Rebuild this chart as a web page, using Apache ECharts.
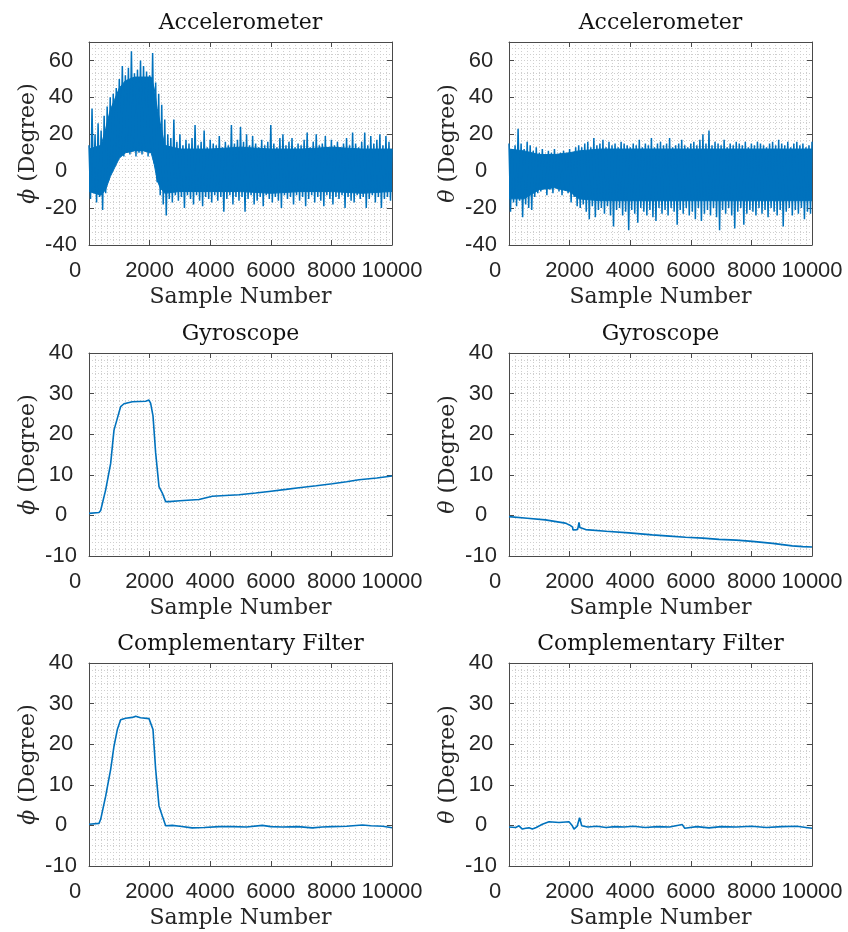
<!DOCTYPE html>
<html>
<head>
<meta charset="utf-8">
<script src="https://cdn.jsdelivr.net/npm/echarts@6/dist/echarts.min.js"></script>
<style>
html,body{margin:0;padding:0;background:#fff;}
#chart{width:848px;height:932px;}
</style>
</head>
<body>
<div id="chart"></div>
<script>
// ---------- data ----------
const xTicks = [0, 2000, 4000, 6000, 8000, 10000];
const titles = ['Accelerometer', 'Accelerometer', 'Gyroscope', 'Gyroscope', 'Complementary Filter', 'Complementary Filter'];

// Accelerometer: peak envelope of the noisy signal (upper at 0,100,...,10000; lower at 50,150,...,9950)
const accPhiUpper = [14, 34, 20, 26, 22, 30, 35, 40, 42, 45,
  50, 57, 52, 56, 65, 53, 55, 60, 57, 54,
  52, 64, 48, 42, 36, 28, 20, 18, 28, 16,
  20, 14, 17, 15, 18, 25, 14, 16, 22, 13,
  17, 15, 14, 19, 13, 16, 14, 25, 15, 17,
  24, 16, 20, 14, 19, 15, 13, 17, 14, 16,
  25, 15, 13, 18, 20, 14, 16, 18, 13, 15,
  14, 17, 21, 13, 16, 20, 14, 15, 19, 13,
  17, 14, 16, 13, 15, 18, 14, 21, 15, 13,
  16, 21, 14, 19, 15, 17, 20, 14, 19, 16, 12];
const accPhiLower = [-15, -12, -17, -14, -21, -12, -5, 0, 4, 7,
  9, 8, 10, 9, 11, 8, 10, 9, 11, 8,
  10, 4, -6, -13, -18, -24, -15, -17, -13, -16,
  -14, -20, -13, -15, -18, -13, -16, -19, -14, -15,
  -17, -13, -16, -14, -22, -15, -13, -18, -14, -16,
  -14, -22, -15, -13, -18, -16, -14, -19, -13, -15,
  -17, -14, -16, -20, -13, -15, -14, -18, -13, -16,
  -14, -19, -15, -13, -17, -14, -16, -19, -13, -15,
  -18, -14, -15, -13, -20, -14, -16, -17, -13, -15,
  -14, -20, -15, -13, -17, -14, -20, -15, -14, -16];
// dense core of the accelerometer noise band
const accPhiCoreX = [0, 400, 550, 700, 850, 1000, 1200, 1500, 1800, 2050, 2150, 2250, 2350, 2500, 3000, 4000, 5000, 6000, 7000, 8000, 9000, 10000];
const accPhiCoreUpper = [12, 14, 23, 33, 39, 45, 49, 51, 51, 51, 45, 34, 26, 14, 12, 12, 13, 12, 12, 13, 12, 12];
const accPhiCoreLower = [-11, -13, -10, -3, 2, 7, 10, 11, 11, 10, 4, -5, -9, -12, -11, -11, -11, -12, -11, -11, -12, -11];

const accThetaUpper = [15, 12, 14, 23, 15, 12, 16, 14, 11, 13,
  10, 12, 9, 11, 10, 12, 9, 10, 11, 9,
  12, 10, 13, 14, 13, 15, 16, 13, 18, 14,
  15, 17, 13, 16, 14, 15, 13, 16, 15, 14,
  13, 15, 14, 17, 13, 15, 14, 18, 13, 15,
  16, 14, 15, 18, 13, 14, 15, 17, 14, 13,
  15, 16, 14, 17, 20, 15, 22, 14, 16, 15,
  14, 17, 13, 15, 14, 16, 15, 14, 16, 13,
  15, 14, 16, 15, 14, 13, 15, 16, 14, 17,
  15, 14, 16, 13, 15, 16, 14, 15, 13, 14, 16];
const accThetaLower = [-22, -17, -19, -16, -25, -18, -20, -21, -14, -12,
  -11, -9, -13, -10, -12, -9, -11, -13, -10, -12,
  -17, -14, -19, -20, -18, -22, -26, -19, -25, -21,
  -20, -23, -19, -24, -30, -21, -20, -24, -22, -32,
  -21, -23, -28, -20, -22, -24, -21, -25, -27, -20,
  -23, -21, -24, -20, -22, -29, -21, -23, -20, -24,
  -22, -26, -20, -27, -23, -21, -24, -20, -25, -32,
  -21, -23, -20, -24, -31, -22, -20, -29, -23, -21,
  -22, -24, -20, -23, -21, -25, -20, -22, -24, -21,
  -30, -22, -20, -24, -21, -23, -20, -26, -22, -23];
const accThetaCoreX = [0, 500, 1000, 1500, 2000, 2300, 3000, 4000, 5000, 6000, 7000, 8000, 9000, 10000];
const accThetaCoreUpper = [12, 11, 9, 9, 10, 11, 12, 12, 12, 12, 12, 12, 12, 12];
const accThetaCoreLower = [-15, -15, -10, -9, -11, -15, -16, -16, -16, -16, -16, -16, -16, -16];

// Gyroscope
const gyroPhiX = [0, 330, 385, 550, 715, 825, 935, 1045, 1155, 1430, 1870, 1980, 2035, 2112, 2200, 2310, 2420, 2530, 2640, 3000, 3630, 4070, 4500, 4950, 5500, 5940, 6500, 6930, 7500, 8030, 8500, 8910, 9500, 10000];
const gyroPhiY = [0.5, 0.7, 1.2, 6.3, 12.8, 21, 23.9, 26.8, 27.5, 28.0, 28.1, 28.4, 27.6, 24.5, 15.4, 7.1, 5.5, 3.4, 3.4, 3.6, 3.9, 4.7, 4.9, 5.1, 5.5, 5.9, 6.4, 6.8, 7.3, 7.8, 8.3, 8.8, 9.2, 9.7];
const gyroThetaX = [0, 600, 1200, 1860, 2030, 2100, 2110, 2250, 2280, 2310, 2340, 2360, 2530, 3200, 3960, 4730, 5300, 5830, 6400, 6930, 7500, 8030, 8700, 9350, 9700, 10000];
const gyroThetaY = [-0.3, -0.7, -1.1, -1.9, -2.5, -2.9, -3.6, -3.5, -3.0, -1.7, -3.0, -3.4, -3.5, -3.9, -4.3, -4.8, -5.1, -5.4, -5.6, -5.9, -6.1, -6.4, -6.9, -7.5, -7.7, -7.8];

// Complementary filter
const compPhiX = [0, 330, 385, 550, 715, 825, 935, 1045, 1210, 1430, 1540, 1700, 1980, 2035, 2112, 2200, 2310, 2420, 2530, 2750, 3000, 3400, 3800, 4300, 4730, 5200, 5720, 6000, 6380, 6900, 7370, 7700, 8030, 8500, 9020, 9300, 9700, 10000];
const compPhiY = [0.3, 0.5, 1.5, 7.2, 13.8, 19.5, 23.6, 26.0, 26.4, 26.6, 26.9, 26.5, 26.3, 26.1, 23.6, 13.8, 4.8, 2.3, -0.1, 0.0, -0.2, -0.6, -0.5, -0.3, -0.3, -0.4, 0.0, -0.3, -0.4, -0.3, -0.6, -0.4, -0.3, -0.2, 0.1, -0.1, -0.2, -0.6];
const compThetaX = [0, 220, 330, 440, 550, 660, 770, 900, 1100, 1320, 1650, 1980, 2090, 2145, 2250, 2330, 2400, 2600, 2900, 3200, 3500, 3800, 4100, 4500, 4900, 5300, 5720, 5800, 6200, 6600, 7000, 7500, 8000, 8500, 9000, 9500, 9800, 10000];
const compThetaY = [-0.4, -0.5, -0.1, -0.9, -0.7, -0.6, -0.9, -0.5, 0.3, 0.9, 0.7, 0.9, -0.1, -0.9, -0.2, 1.9, -0.1, -0.4, -0.2, -0.5, -0.3, -0.4, -0.2, -0.5, -0.3, -0.4, 0.2, -0.7, -0.3, -0.6, -0.3, -0.4, -0.2, -0.5, -0.3, -0.2, -0.5, -0.7];

// ---------- helpers ----------
function envelopeSeries(upper, lower) {
  const pts = [];
  for (let i = 0; i < upper.length; i++) {
    pts.push([i * 100, upper[i]]);
    if (i < lower.length) pts.push([i * 100 + 50, lower[i]]);
  }
  return pts;
}
function zipXY(xs, ys) { return xs.map((x, i) => [x, ys[i]]); }

const SANS = '"Liberation Sans", Arial, Helvetica, sans-serif';
const SERIF = '"DejaVu Serif", serif';
const TXT = '#262626';
const AX = '#4a4a4a';
const GRIDC = '#cfcfcf';
const BLUE = '#0072BD';

const lefts = [89, 509];
const tops = [42, 353, 663];
const W = 303, H = 203;
const yRanges = [[-40, 70, 20], [-10, 40, 10], [-10, 40, 10]];
const symbols = ['\u03D5', '\u03B8'];

const panelData = [
  envelopeSeries(accPhiUpper, accPhiLower),
  envelopeSeries(accThetaUpper, accThetaLower),
  zipXY(gyroPhiX, gyroPhiY),
  zipXY(gyroThetaX, gyroThetaY),
  zipXY(compPhiX, compPhiY),
  zipXY(compThetaX, compThetaY)
];
const cores = [
  [accPhiCoreX, accPhiCoreLower, accPhiCoreUpper],
  [accThetaCoreX, accThetaCoreLower, accThetaCoreUpper]
];

function bandRenderer(core) {
  return function (params, api) {
    const xs = core[0], lo = core[1], hi = core[2];
    const pts = [];
    for (let i = 0; i < xs.length; i++) pts.push(api.coord([xs[i], hi[i]]));
    for (let i = xs.length - 1; i >= 0; i--) pts.push(api.coord([xs[i], lo[i]]));
    return { type: 'polygon', shape: { points: pts }, style: { fill: BLUE, stroke: BLUE, lineWidth: 1 } };
  };
}

const grid = [], xAxis = [], yAxis = [], series = [], graphic = [];
const dotted = { color: GRIDC, type: [1, 2], width: 1 };

for (let p = 0; p < 6; p++) {
  const r = Math.floor(p / 2), c = p % 2;
  grid.push({ left: lefts[c], top: tops[r], width: W, height: H, containLabel: false });
  const yr = yRanges[r];
  xAxis.push({
    gridIndex: p, type: 'value', min: xTicks[0], max: xTicks[xTicks.length - 1], interval: 2000,
    axisLine: { show: true, onZero: false, lineStyle: { color: AX, width: 1 } },
    axisTick: { show: true, inside: true, length: 5, lineStyle: { color: AX } },
    axisLabel: {
      show: true, margin: 15, color: TXT, fontFamily: SANS, fontSize: 22,
      formatter: v => v === 0 ? '{z|0}' : String(v),
      rich: { z: { padding: [0, 28, 0, 0], color: TXT, fontFamily: SANS, fontSize: 22 } }
    },
    splitLine: { show: true, lineStyle: dotted },
    minorTick: { show: false, splitNumber: 10 },
    minorSplitLine: { show: true, lineStyle: dotted },
    name: 'Sample Number', nameLocation: 'middle', nameGap: 41,
    nameTextStyle: { fontFamily: SERIF, fontSize: 22, color: TXT }
  });
  yAxis.push({
    gridIndex: p, type: 'value', min: yr[0], max: yr[1], interval: yr[2],
    axisLine: { show: true, onZero: false, lineStyle: { color: AX, width: 1 } },
    axisTick: { show: true, inside: true, length: 5, lineStyle: { color: AX } },
    axisLabel: { show: true, align: 'center', margin: 28, color: TXT, fontFamily: SANS, fontSize: 22, showMaxLabel: r !== 0 },
    splitLine: { show: true, lineStyle: dotted },
    minorTick: { show: false, splitNumber: 6 },
    minorSplitLine: { show: true, lineStyle: dotted },
    name: '{i|' + symbols[c] + '} (Degree)', nameLocation: 'middle', nameGap: 50,
    nameTextStyle: { fontFamily: SERIF, fontSize: 22, color: TXT,
      rich: { i: { fontStyle: 'italic', fontFamily: SERIF, fontSize: 22, color: TXT } } }
  });
  if (r === 0) {
    series.push({
      type: 'custom', xAxisIndex: p, yAxisIndex: p, data: [[cores[c][0][0], cores[c][1][0]]],
      renderItem: bandRenderer(cores[c]), animation: false, silent: true, z: 3, clip: true
    });
  }
  series.push({
    type: 'line', xAxisIndex: p, yAxisIndex: p, data: panelData[p],
    showSymbol: false, symbol: 'none', animation: false, clip: true,
    lineStyle: { color: BLUE, width: r === 0 ? 1.5 : 1.6, join: 'bevel' },
    itemStyle: { color: BLUE }, z: 5
  });
  graphic.push({
    type: 'text', x: lefts[c] + W / 2, y: tops[r] - 19,
    style: { text: titles[p], fill: '#111', font: '22px ' + SERIF, align: 'center', verticalAlign: 'middle' }
  });
}
for (let p = 0; p < 6; p++) {
  const r = Math.floor(p / 2);
  const yr = yRanges[r];
  xAxis.push({
    gridIndex: p, type: 'value', position: 'top', min: 0, max: 10000, interval: 2000,
    axisLine: { show: true, onZero: false, lineStyle: { color: AX, width: 1 } },
    axisTick: { show: true, inside: true, length: 5, lineStyle: { color: AX } },
    axisLabel: { show: false }, splitLine: { show: false }
  });
  yAxis.push({
    gridIndex: p, type: 'value', position: 'right', min: yr[0], max: yr[1], interval: yr[2],
    axisLine: { show: true, onZero: false, lineStyle: { color: AX, width: 1 } },
    axisTick: { show: true, inside: true, length: 5, lineStyle: { color: AX } },
    axisLabel: { show: false }, splitLine: { show: false }
  });
}

const chart = echarts.init(document.getElementById('chart'), null, { renderer: 'canvas' });
chart.setOption({
  backgroundColor: '#ffffff',
  animation: false,
  grid, xAxis, yAxis, series, graphic
});
</script>
</body>
</html>
